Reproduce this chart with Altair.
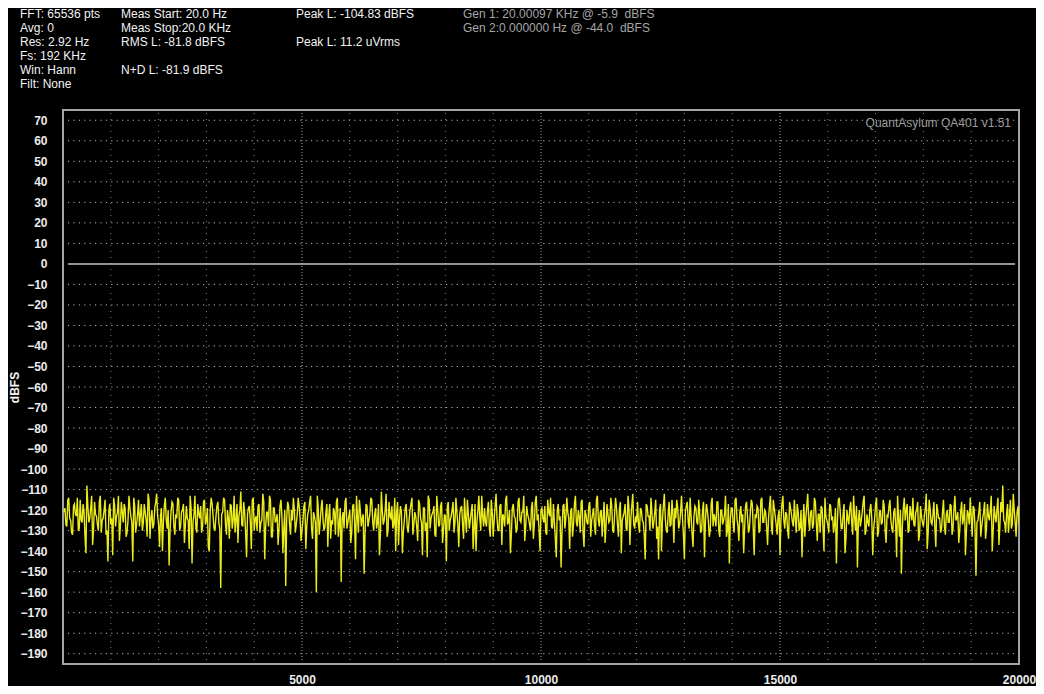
import altair as alt
import pandas as pd

# ---------------- data ----------------
FREQ_START = 20      # Hz, first displayed bin
FREQ_STEP = 40       # Hz between bins of one list
FREQ_OFFSET_B = 20   # Hz, second list sits between the bins of the first

LEVELS_A = [
    -121, -127, -115, -124, -131, -118, -122, -114, -129, -125, -117, -133, -108, -126, -119, -137, -116, -123, -130, -113,
    -125, -120, -132, -145, -117, -124, -114, -128, -121, -135, -116, -126, -119, -131, -113, -123, -145, -118, -127, -115,
    -122, -130, -117, -125, -112, -134, -120, -127, -116, -123, -138, -119, -126, -114, -129, -147, -121, -117, -132, -124,
    -115, -128, -120, -136, -118, -125, -113, -146, -122, -129, -117, -124, -131, -116, -127, -119, -140, -114, -123, -130,
    -118, -126, -158, -121, -115, -132, -124, -117, -129, -113, -125, -136, -120, -127, -116, -131, -122, -118, -139, -114,
    -124, -130, -117, -126, -112, -144, -121, -128, -115, -133, -119, -125, -137, -118, -123, -129, -157, -116, -127, -120,
    -114, -131, -122, -118, -135, -125, -116, -128, -120, -113, -134, -123, -160, -119, -126, -115, -130, -121, -138, -117,
    -125, -119, -132, -114, -127, -155, -121, -116, -129, -123, -136, -118, -126, -113, -131, -120, -124, -151, -117, -128,
    -122, -115, -130, -119, -126, -142, -111, -127, -120, -133, -116, -124, -129, -114, -121, -137, -118, -141, -125, -117,
    -131, -120, -114, -127, -123, -135, -117, -126, -119, -130, -143, -115, -124, -121, -132, -113, -128, -118, -136, -122,
    -145, -116, -125, -120, -131, -114, -127, -122, -118, -134, -124, -115, -129, -121, -139, -117, -126, -113, -130, -123,
    -119, -128, -116, -133, -121, -125, -112, -130, -118, -137, -123, -115, -127, -120, -132, -117, -124, -129, -114, -126,
    -121, -135, -118, -124, -130, -116, -127, -113, -122, -140, -119, -126, -131, -115, -123, -128, -117, -134, -120, -125,
    -148, -118, -129, -114, -124, -121, -133, -117, -126, -120, -131, -115, -138, -122, -127, -116, -125, -119, -132, -113,
    -128, -120, -124, -136, -117, -126, -114, -130, -122, -119, -133, -116, -125, -121, -129, -113, -137, -118, -127, -123,
    -116, -131, -120, -126, -144, -118, -123, -114, -129, -121, -134, -144, -117, -125, -112, -130, -122, -128, -115, -136,
    -124, -119, -127, -113, -132, -121, -116, -129, -123, -138, -118, -126, -115, -131, -120, -143, -117, -125, -130, -114,
    -122, -128, -116, -133, -120, -125, -113, -130, -146, -119, -127, -115, -124, -135, -118, -122, -129, -116, -131, -121,
    -117, -142, -124, -119, -130, -114, -126, -121, -137, -118, -128, -115, -123, -132, -120, -125, -113, -129, -122, -134,
    -119, -126, -115, -131, -121, -128, -143, -117, -124, -112, -130, -120, -127, -116, -135, -122, -118, -129, -114, -125,
    -131, -118, -123, -127, -146, -115, -121, -129, -117, -134, -124, -119, -126, -113, -130, -148, -120, -125, -116, -132,
    -122, -128, -117, -142, -124, -114, -131, -120, -126, -118, -136, -123, -115, -129, -121, -127, -113, -133, -151, -119,
    -125, -117, -130, -122, -114, -128, -120, -135, -118, -126, -123, -112, -131, -119, -127, -116, -138, -121, -124, -129,
    -115, -132, -120, -126, -118, -129, -113, -124, -136, -121, -127, -117, -130, -122, -114, -133, -119, -152, -125, -116,
    -128, -121, -134, -117, -125, -113, -130, -123, -119, -137, -116, -108, -126, -122, -131, -115, -127, -120, -133, -118,
]

LEVELS_B = [
    -119, -128, -114, -125, -132, -117, -123, -130, -115, -126, -121, -141, -118, -124, -113, -129, -122, -127, -116, -131,
    -124, -115, -130, -120, -127, -142, -118, -123, -113, -128, -121, -117, -133, -125, -119, -126, -114, -131, -122, -128,
    -117, -126, -121, -133, -115, -124, -129, -119, -112, -127, -123, -140, -118, -125, -120, -130, -116, -128, -122, -114,
    -130, -121, -117, -127, -124, -139, -119, -126, -113, -131, -122, -118, -128, -115, -125, -138, -120, -117, -129, -123,
    -116, -129, -122, -114, -127, -120, -134, -118, -125, -131, -117, -123, -111, -128, -121, -143, -119, -126, -115, -130,
    -123, -118, -131, -125, -116, -128, -121, -113, -133, -119, -126, -122, -129, -115, -141, -120, -124, -118, -132, -125,
    -120, -127, -114, -124, -130, -118, -139, -122, -116, -129, -121, -126, -113, -132, -119, -125, -128, -117, -123, -134,
    -127, -121, -116, -133, -119, -124, -129, -114, -126, -120, -131, -117, -144, -123, -115, -128, -122, -130, -118, -125,
    -114, -126, -122, -129, -117, -132, -120, -125, -112, -130, -123, -118, -127, -140, -116, -124, -121, -131, -119, -128,
    -125, -117, -132, -121, -128, -115, -124, -142, -119, -126, -113, -129, -122, -118, -133, -120, -127, -116, -130, -123,
    -118, -130, -123, -116, -126, -121, -138, -119, -127, -114, -131, -122, -125, -117, -129, -140, -120, -124, -113, -128,
    -126, -120, -129, -115, -133, -118, -124, -130, -117, -122, -128, -113, -126, -141, -119, -123, -131, -116, -125, -121,
    -113, -128, -122, -127, -119, -134, -116, -125, -130, -120, -124, -118, -132, -121, -114, -129, -126, -143, -117, -123,
    -130, -117, -124, -121, -139, -119, -127, -113, -128, -123, -116, -131, -120, -126, -118, -133, -122, -128, -115, -125,
    -121, -133, -116, -128, -122, -125, -118, -131, -114, -127, -120, -141, -123, -117, -130, -119, -124, -112, -129, -126,
    -127, -119, -125, -132, -117, -123, -130, -121, -126, -115, -128, -120, -140, -118, -124, -131, -116, -127, -122, -119,
    -115, -129, -121, -124, -144, -118, -126, -114, -131, -123, -119, -127, -122, -130, -116, -125, -120, -133, -117, -128,
    -124, -116, -130, -120, -127, -122, -133, -117, -125, -119, -131, -114, -128, -121, -126, -141, -118, -123, -129, -115,
    -129, -122, -118, -131, -115, -126, -120, -128, -124, -113, -132, -119, -127, -123, -142, -117, -125, -121, -130, -116,
    -122, -128, -124, -117, -130, -120, -127, -133, -118, -125, -121, -129, -114, -126, -122, -131, -119, -140, -123, -127,
    -117, -125, -131, -119, -126, -114, -129, -122, -141, -120, -127, -116, -132, -123, -118, -125, -128, -121, -113, -130,
    -126, -120, -124, -129, -117, -133, -121, -127, -115, -130, -122, -118, -125, -131, -119, -143, -124, -120, -128, -114,
    -120, -131, -118, -125, -127, -121, -116, -132, -123, -128, -119, -139, -115, -126, -122, -129, -117, -124, -131, -121,
    -128, -122, -126, -117, -132, -119, -125, -121, -130, -116, -124, -142, -120, -127, -123, -118, -129, -126, -121, -133,
    -124, -116, -129, -123, -120, -140, -118, -126, -114, -128, -121, -125, -131, -117, -123, -129, -112, -126, -121, -127,
]

FREQS_A = [FREQ_START + FREQ_STEP * i for i in range(len(LEVELS_A))]
FREQS_B = [FREQ_START + FREQ_OFFSET_B + FREQ_STEP * i for i in range(len(LEVELS_B))]

X_DOMAIN = [0, 20000]
Y_DOMAIN = [-195, 75]
X_TICKS = [5000, 10000, 15000, 20000]
Y_TICKS = list(range(-190, 80, 10))
H_GRID = [v for v in Y_TICKS if v != 0]
V_GRID_MINOR = [1000, 2000, 3000, 4000, 6000, 7000, 8000, 9000, 11000, 12000,
                13000, 14000, 16000, 17000, 18000, 19000]
V_GRID_MAJOR = [5000, 10000, 15000]
ZERO_LINE = [0]

HEADER_COL1 = ["FFT: 65536 pts", "Avg: 0", "Res: 2.92 Hz", "Fs: 192 KHz", "Win: Hann", "Filt: None"]
HEADER_COL2 = ["Meas Start: 20.0 Hz", "Meas Stop:20.0 KHz", "RMS L: -81.8 dBFS", "", "N+D L: -81.9 dBFS"]
HEADER_COL3 = ["Peak L: -104.83 dBFS", "", "Peak L: 11.2 uVrms"]
HEADER_COL4 = ["Gen 1: 20.00097 KHz @ -5.9  dBFS", "Gen 2:0.000000 Hz @ -44.0  dBFS"]
WATERMARK = "QuantAsylum QA401 v1.51"
Y_TITLE = "dBFS"

# ---------------- chart ----------------
FONT = "Liberation Sans"
W, H = 956, 554

xscale = alt.Scale(domain=X_DOMAIN, nice=False, zero=False)
yscale = alt.Scale(domain=Y_DOMAIN, nice=False, zero=False)

xaxis = alt.Axis(values=X_TICKS, title=None, labelFlush=False, labelColor="#ececec",
                 labelFont=FONT, labelFontSize=12, labelFontWeight="bold",
                 labelPadding=15, labelBaseline="middle", ticks=False, tickSize=0,
                 domain=False, grid=False, format="d")
yaxis = alt.Axis(values=Y_TICKS, title=Y_TITLE, labelFlush=False, labelColor="#ececec",
                 labelFont=FONT, labelFontSize=12, labelFontWeight="bold",
                 labelPadding=16, ticks=False, tickSize=0, domain=False, grid=False,
                 labelOverlap=False,
                 titleColor="#f4f4f4", titleFont=FONT, titleFontSize=12, titleFontWeight="bold",
                 titleX=-49, titleY=H / 2, titleAngle=-90, titleBaseline="middle", titleAlign="center")

spec_df = pd.concat([
    pd.DataFrame({"freq": FREQS_A, "level": LEVELS_A}),
    pd.DataFrame({"freq": FREQS_B, "level": LEVELS_B}),
]).sort_values("freq").reset_index(drop=True)

hgrid = alt.Chart(pd.DataFrame({"level": H_GRID})).mark_rule(
    color="#b4b4b4", strokeWidth=1, strokeDash=[1.2, 4.2]
).encode(
    y=alt.Y("level:Q", scale=yscale, axis=yaxis),
    x=alt.value(5), x2=alt.value(W - 4),
)

vgrid_minor = alt.Chart(pd.DataFrame({"freq": V_GRID_MINOR})).mark_rule(
    color="#808080", strokeWidth=1, strokeDash=[1, 5]
).encode(
    x=alt.X("freq:Q", scale=xscale, axis=xaxis),
    y=alt.value(3), y2=alt.value(H - 4),
)

vgrid_major = alt.Chart(pd.DataFrame({"freq": V_GRID_MAJOR})).mark_rule(
    color="#a8a8a8", strokeWidth=1, strokeDash=[1, 2]
).encode(
    x=alt.X("freq:Q", scale=xscale, axis=xaxis),
    y=alt.value(3), y2=alt.value(H - 4),
)

zero = alt.Chart(pd.DataFrame({"level": ZERO_LINE})).mark_rule(
    color="#c4c4c4", strokeWidth=1.5
).encode(
    y=alt.Y("level:Q", scale=yscale, axis=yaxis),
    x=alt.value(5), x2=alt.value(W - 4),
)

trace = alt.Chart(spec_df).mark_line(
    color="#ecec18", strokeWidth=1.4, clip=True, interpolate="linear"
).encode(
    x=alt.X("freq:Q", scale=xscale, axis=xaxis),
    y=alt.Y("level:Q", scale=yscale, axis=yaxis),
    order="freq:Q",
)

one = pd.DataFrame({"k": [0]})
LINE_TOP = -101
LINE_STEP = 14


def keep_spaces(s):
    # SVG collapses runs of spaces; keep them visible
    return s.replace("  ", " \u00a0")


def header(lines, x, color):
    layers = []
    for i, s in enumerate(lines):
        if not s:
            continue
        layers.append(alt.Chart(one).mark_text(
            align="left", baseline="top", font=FONT, fontSize=12, color=color
        ).encode(x=alt.value(x), y=alt.value(LINE_TOP + LINE_STEP * i),
                 text=alt.value(keep_spaces(s))))
    return layers


texts = (header(HEADER_COL1, -43, "#f2f2f2")
         + header(HEADER_COL2, 58, "#f2f2f2")
         + header(HEADER_COL3, 233, "#f2f2f2")
         + header(HEADER_COL4, 400, "#a6a6a6"))

mark = alt.Chart(one).mark_text(
    align="right", baseline="middle", font=FONT, fontSize=12, color="#9c9c9c"
).encode(x=alt.value(948), y=alt.value(13), text=alt.value(WATERMARK))

chart = alt.layer(
    hgrid, vgrid_minor, vgrid_major, zero, trace, *texts, mark
).properties(
    width=W, height=H,
    autosize=alt.AutoSizeParams(type="none"),
    padding={"left": 55, "top": 102, "right": 17, "bottom": 22},
    background="#000000",
).configure_view(
    stroke="#a4a4a4", strokeWidth=2, fill="#000000"
)

chart.save("out.html", embed_options={"renderer": "svg", "actions": False})
